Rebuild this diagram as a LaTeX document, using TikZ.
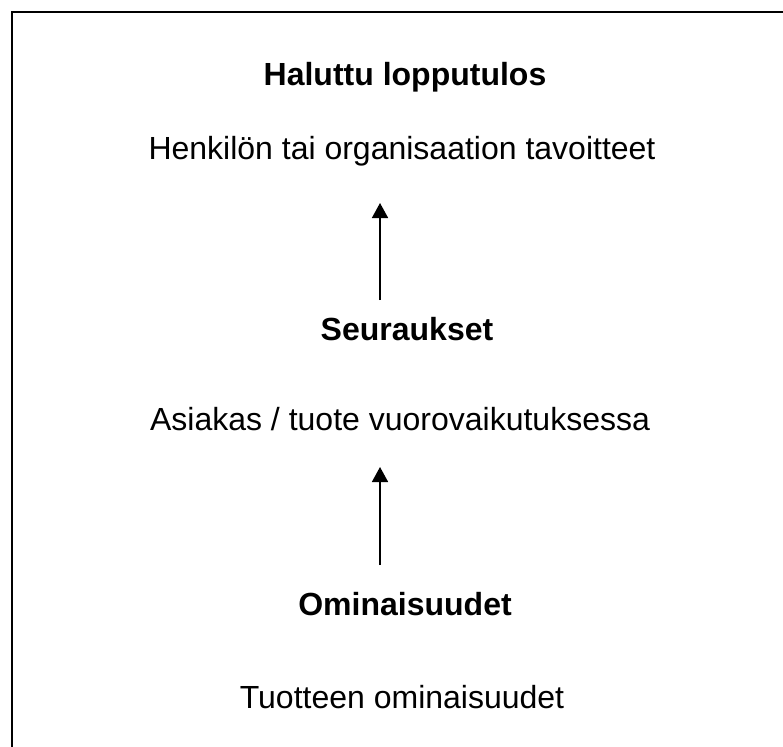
\documentclass[tikz,border=0pt]{standalone}
\usepackage{fontspec}
\setmainfont{Liberation Sans}
\usetikzlibrary{arrows.meta}
\begin{document}
\begin{tikzpicture}[x=1pt,y=-1pt,
  heading/.style={anchor=base,font=\fontsize{32}{38}\selectfont\bfseries},
  body/.style={anchor=base,font=\fontsize{32}{38}\selectfont},
  uparrow/.style={line width=1.6pt,-{Triangle[length=15pt,width=16pt]}}]
  \useasboundingbox (0,0) rectangle (783,746);
  % frame: only the top and left sides fall inside the picture
  \draw[line width=2pt] (12,760) -- (12,12) -- (800,12);
  \node[heading] (goal) at (405,86) {Haluttu lopputulos};
  \node[body] (goaltext) at (402,160) {Henkilön tai organisaation tavoitteet};
  \node[heading] (cons) at (407,340) {Seuraukset};
  \node[body] (constext) at (400,430) {Asiakas / tuote vuorovaikutuksessa};
  \node[heading] (attr) at (405,615) {Ominaisuudet};
  \node[body] (attrtext) at (402,708) {Tuotteen ominaisuudet};
  \coordinate (a1s) at (380,300);
  \coordinate (a1e) at (380,203);
  \coordinate (a2s) at (380,565);
  \coordinate (a2e) at (380,467);
  \draw[uparrow] (a1s) -- (a1e);
  \draw[uparrow] (a2s) -- (a2e);
\end{tikzpicture}
\end{document}
